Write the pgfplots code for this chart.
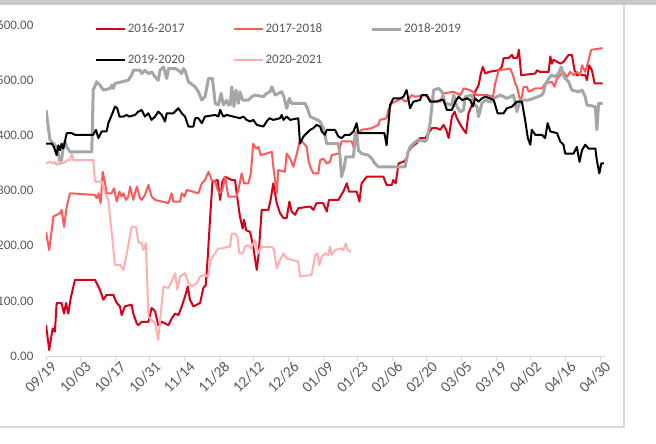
\documentclass[border=0pt]{standalone}
\usepackage{fontspec}
\setmainfont{Carlito}
\usepackage{pgfplots}
\pgfplotsset{compat=1.18}
\definecolor{c1617}{RGB}{215,0,25}
\definecolor{c1718}{RGB}{255,90,90}
\definecolor{c1819}{RGB}{166,166,166}
\definecolor{c1920}{RGB}{0,0,0}
\definecolor{c2021}{RGB}{255,175,175}
\definecolor{txtgrey}{RGB}{89,89,89}
\definecolor{axisgrey}{RGB}{217,217,217}
\definecolor{bandgrey}{RGB}{200,200,200}
\newcommand{\lblfont}{\fontsize{9.75}{11}\selectfont}
\newcommand{\xlblfont}{\fontsize{11.5}{13}\selectfont}

\begin{document}
\begin{tikzpicture}
\useasboundingbox (0,0) rectangle (492pt,332.25pt);
\fill[bandgrey] (0,328.5pt) rectangle (492pt,332.25pt);
\draw[axisgrey, line width=1.5pt] (-1pt,12pt) -- (468pt,12pt) -- (468pt,328.5pt);
\begin{axis}[
    at={(34.5pt,65.25pt)}, anchor=south west,
    scale only axis, width=419.25pt, height=248.25pt,
    xmin=0, xmax=226, ymin=0, ymax=600,
    axis x line=bottom, axis y line=left,
    x axis line style={-, draw=axisgrey, line width=0.75pt},
    y axis line style={draw=none},
    xtick={0,14,...,224},
    xticklabels={09/19,10/03,10/17,10/31,11/14,11/28,12/12,12/26,01/09,01/23,02/06,02/20,03/05,03/19,04/02,04/16,04/30},
    xtick align=outside, major tick length=3.5pt,
    xtick style={draw=axisgrey, line width=0.75pt},
    ytick={0,100,...,600},
    ytick style={draw=none},
    xticklabel style={rotate=45, anchor=east, inner sep=0pt, xshift=2.5pt, yshift=-6pt, font=\xlblfont, text=txtgrey},
    yticklabel style={anchor=east, inner sep=0pt, xshift=-7.5pt, font=\lblfont, text=txtgrey,
        /pgf/number format/.cd, fixed, fixed zerofill, precision=2, 1000 sep={}, assume math mode=true},
    no markers,
    legend columns=3,
    legend image code/.code={\draw[#1] (0pt,0pt) -- (21.75pt,0pt);},
    legend style={at={(0.087,1.010)}, anchor=north west, draw=none, fill=none,
        font=\lblfont, text=txtgrey, inner sep=0pt, row sep=12pt,
        nodes={inner sep=1.5pt},
        /tikz/every even column/.append style={column sep=34.5pt}},
    every axis plot/.append style={line join=round},
]
\addplot[c1617, line width=1.5pt] coordinates {
(0,56) (1.3,11) (2.7,50) (3.6,44) (4.3,96) (6.3,96) (7.3,77) (8.1,96) (9,77) (10,105) (11.7,138) (19.8,138) (21.8,120) (23.2,102) (24.5,111) (27.2,111) (28.6,96) (29.9,90) (30.6,74) (31.9,90) (34.6,93) (35.3,77) (36.7,59) (37.3,56) (38.7,62) (41.4,62) (42.7,87) (44.1,81) (45.4,56) (46.8,62) (49.5,56) (50.8,68) (52.2,77) (53.5,74) (54.9,90) (56.2,108) (57.3,126) (58.2,102) (59.6,90) (62.3,96) (63.6,123) (64.6,129) (65.4,180) (66.3,247) (67.3,316) (69.4,319) (70.4,283) (71.3,316) (72.4,325) (75.1,319) (76.4,319) (77.1,295) (78.4,253) (79.5,231) (80.1,247) (80.9,228) (82.5,225) (83.8,198) (85.2,156) (86,186) (87.2,265) (89.9,265) (90.8,283) (91.9,313) (92.6,295) (93.3,277) (94.6,259) (96,250) (97.3,250) (98.4,280) (99.3,262) (100.7,256) (102,268) (106.8,271) (108.1,265) (109.4,277) (112.1,277) (113.5,262) (114.4,283) (118.2,283) (120.2,298) (121.6,313) (122.5,298) (125.6,298) (126.7,280) (127.6,313) (129.7,325) (136.4,325) (137.7,310) (139.8,310) (140.4,319) (141.4,313) (142.5,349) (144.5,352) (145.8,358) (146.5,370) (147.8,379) (149.9,386) (151.2,395) (153.3,395) (154.7,404) (156,413) (158,413) (159.4,410) (160.7,419) (161.8,410) (162.8,395) (164.1,434) (165.2,443) (166.1,431) (167.2,422) (168.8,410) (169.8,404) (170.8,440) (172.2,455) (173.5,479) (174.9,491) (175.8,512) (176.6,524) (177.6,512) (178.9,515) (183,518) (184.3,524) (185,540) (187,540) (188.4,546) (189,540) (190.4,540) (191.2,555) (192.1,509) (197.8,512) (198.5,518) (199.8,515) (203.2,515) (203.9,543) (204.5,530) (205.2,537) (207.9,530) (209.2,533) (211.3,546) (212.6,546) (213.7,518) (214.6,509) (218,509) (218.7,500) (219.6,527) (220.7,518) (221.8,494) (225,494)
};
\addlegendentry{2016-2017}
\addplot[c1718, line width=1.5pt] coordinates {
(0,225) (1.3,192) (3,253) (5.7,259) (6.3,265) (7.3,234) (8.4,271) (9.7,295) (19.8,292) (20.5,286) (21.2,295) (22.1,277) (22.9,334) (23.9,313) (24.5,295) (26.5,295) (27.5,304) (28.6,280) (29.7,298) (30.6,289) (31.3,295) (32.3,283) (33.3,289) (34,307) (35.3,283) (36.7,307) (38,286) (38.7,283) (40,292) (41.4,310) (42.7,289) (44.1,283) (46.8,280) (49.5,277) (50.8,295) (51.5,280) (54.2,280) (54.9,295) (56,289) (56.9,301) (61.6,295) (63,313) (64.3,319) (65.7,334) (67,319) (68.4,316) (69.4,301) (70.4,295) (71.3,301) (72.4,325) (73.7,289) (77.1,289) (78.2,310) (79.1,331) (80.1,313) (81.8,313) (82.8,331) (83.8,385) (84.9,376) (85.9,379) (86.8,364) (91.3,370) (91.9,343) (93.3,295) (93.9,337) (96.6,334) (97.3,367) (98.7,358) (100,343) (101.4,367) (102.7,392) (104.1,386) (105.4,379) (106.1,355) (106.8,343) (108.1,331) (110.1,331) (110.8,355) (112.1,358) (113.5,349) (114.8,352) (115.5,364) (118.2,367) (119.5,389) (123.6,389) (124.3,379) (124.9,404) (126.3,404) (127.6,410) (131.7,413) (133,416) (134.4,419) (135,428) (137.7,431) (138.4,446) (139.8,458) (142.5,464) (143.8,467) (145.2,461) (146.5,464) (147.8,473) (149.2,470) (153.2,473) (155.3,464) (159.4,461) (160.7,476) (164.8,479) (167.5,473) (168.8,485) (171.5,482) (174.2,473) (178.3,473) (180.7,470) (181.6,494) (183,518) (187.7,521) (188.8,509) (189.7,494) (190.4,488) (191.3,470) (192.1,464) (193.1,488) (194.4,488) (195.1,479) (197.8,485) (200.5,485) (201.8,494) (204.5,497) (205.6,488) (206.6,503) (209.2,515) (210.6,506) (211.9,515) (213.3,509) (214.6,515) (216,509) (216.7,527) (218,515) (219.4,537) (220.4,555) (225,558)
};
\addlegendentry{2017-2018}
\addplot[c1819, line width=2.25pt] coordinates {
(0,446) (1.6,392) (4.3,379) (5,367) (5.7,349) (6.3,355) (7,379) (7.7,389) (8.4,379) (9.7,370) (18.5,370) (19.1,482) (20.5,497) (21.8,491) (23.2,482) (25.9,485) (26.6,491) (27.2,485) (27.9,494) (30.6,497) (33.3,500) (34.6,509) (35.3,518) (38,518) (38.7,512) (40,518) (41.4,512) (42.7,515) (44.1,506) (45.4,500) (46.1,518) (47.5,524) (48.8,503) (49.5,521) (52.2,521) (53.5,518) (54.9,512) (55.5,521) (56.2,518) (57.6,497) (60.3,488) (61.6,479) (63,464) (64.3,470) (65.7,503) (67.3,503) (68.4,458) (69.7,455) (70.8,476) (71.7,455) (73.1,464) (73.7,455) (74.5,455) (75.1,488) (76,452) (76.8,482) (77.8,458) (78.4,479) (79.5,464) (81.8,464) (83.2,470) (84.5,473) (87.9,470) (89.2,476) (90.6,479) (91.3,488) (92.6,473) (95.3,479) (96.2,470) (97.3,449) (98.4,467) (99.3,458) (104.7,458) (105.7,449) (106.8,434) (109.7,428) (110.8,425) (112.1,413) (113.5,385) (118.2,385) (118.9,361) (119.5,325) (120.6,343) (121.2,361) (124.3,361) (124.9,392) (125.6,407) (126.3,373) (127.6,367) (130.3,364) (131.7,358) (133,349) (134.4,343) (145.2,343) (146.2,367) (147.2,379) (148.5,385) (150.5,392) (153.2,389) (154,392) (155.3,422) (156.7,482) (158.7,485) (160.1,479) (161.4,458) (164.1,455) (164.8,473) (166.1,452) (167.5,443) (168.8,446) (169.5,470) (172.2,473) (172.9,458) (174.2,452) (174.9,434) (176.2,458) (177.6,464) (179.6,461) (181,467) (183.7,473) (186.3,467) (187.7,470) (189,473) (190.4,443) (191.7,464) (195.1,464) (197.1,467) (200.5,473) (201.2,479) (201.8,491) (203.2,503) (204.5,509) (205.9,506) (207.2,512) (208.3,524) (209.2,509) (209.9,503) (211.3,497) (212.6,482) (215.3,479) (216.7,482) (218,470) (218.7,455) (222.1,452) (222.7,410) (223.4,458) (225,458)
};
\addlegendentry{2018-2019}
\addplot[c1920, line width=1.5pt] coordinates {
(0,385) (2.3,385) (3.2,379) (4.3,364) (5,382) (5.7,373) (6.3,385) (7,376) (8.4,404) (10.4,404) (11.7,401) (19.1,401) (20.2,410) (21.2,395) (22.5,407) (24.5,407) (25.2,422) (26.6,437) (27.9,452) (28.8,449) (29.7,434) (31.3,434) (32.6,437) (33.7,434) (36,437) (37.3,443) (38.7,446) (40,434) (41.4,440) (42.7,428) (44.1,434) (45.4,443) (46.8,437) (48.1,425) (48.8,440) (51.5,440) (53.5,449) (54.9,440) (56.2,434) (57.6,416) (59.6,416) (60.3,431) (61.6,431) (63,422) (64.3,434) (68.4,437) (69.7,434) (70.4,446) (71.7,434) (73.1,437) (75.7,434) (78.4,431) (79.8,434) (81.1,428) (82.5,425) (83.8,428) (85.2,419) (87.9,416) (89.2,425) (90.3,431) (91.9,428) (94.6,431) (95.3,437) (96,428) (97.3,434) (98.7,428) (102,431) (102.7,385) (104.1,398) (105.4,404) (106.8,410) (108.1,413) (109.4,419) (110.8,416) (111.5,407) (112.8,401) (113.5,410) (116.8,410) (118.2,398) (119.5,395) (120.9,401) (122.9,401) (124.3,407) (125.6,422) (126.3,404) (136.8,404) (137.7,382) (139.1,455) (140.4,467) (143.1,467) (144.5,470) (145.8,482) (147.2,449) (148.5,461) (151.2,464) (151.9,473) (154,473) (155.3,461) (158,461) (159.4,464) (160.7,464) (162.1,446) (164.1,446) (165.5,461) (166.8,470) (168.2,464) (170.2,467) (171.5,464) (172.6,452) (173.5,467) (174.9,461) (176.2,467) (177.6,470) (179.6,467) (181,464) (182.6,440) (185,440) (186.3,449) (188.4,452) (190.4,461) (192.4,461) (193.7,428) (194.8,395) (195.8,383) (196.4,410) (197.8,401) (200.5,401) (201.8,395) (202.8,422) (203.9,407) (206.6,404) (207.9,389) (209.2,383) (209.9,367) (213.3,367) (214.6,379) (215.7,352) (216.7,373) (218,383) (219.4,376) (222.1,376) (222.7,355) (223.7,331) (224.5,349) (225.5,349)
};
\addlegendentry{2019-2020}
\addplot[c2021, line width=1.5pt] coordinates {
(0,349) (1.6,352) (2.7,349) (3.6,352) (4.3,346) (5.7,352) (7,349) (8.4,355) (9.7,355) (10.4,367) (11.1,355) (19.1,355) (19.8,316) (22.5,316) (23.9,295) (25.2,283) (26.6,222) (27.9,165) (29.9,165) (31.3,156) (32.9,192) (34.6,234) (36.4,234) (37.3,207) (38.7,204) (39.4,192) (40.4,204) (41.4,71) (44.1,59) (45.4,29) (46.1,65) (47.5,126) (49.5,123) (50.8,135) (52.2,150) (53.1,120) (54.2,144) (56.2,150) (57.6,132) (58.9,126) (60.9,132) (62.3,144) (64.3,147) (65.6,144) (66.6,174) (68.3,186) (69.7,195) (71.7,195) (73.1,198) (74.4,198) (75.1,222) (76.4,222) (77.4,216) (78.2,186) (79.5,186) (80.5,198) (81.8,201) (82.8,195) (83.8,204) (84.5,210) (85.2,195) (85.9,186) (86.8,198) (91.3,198) (92.2,192) (93.3,159) (94.6,174) (96,186) (97.3,177) (102,171) (102.7,144) (107.4,147) (108.1,165) (108.8,183) (109.7,186) (110.5,165) (111.5,180) (112.8,186) (114.1,183) (114.8,198) (115.5,183) (116.8,192) (119.3,195) (120.2,192) (121.2,204) (122,192) (123.3,189)
};
\addlegendentry{2020-2021}
\end{axis}
\end{tikzpicture}
\end{document}
